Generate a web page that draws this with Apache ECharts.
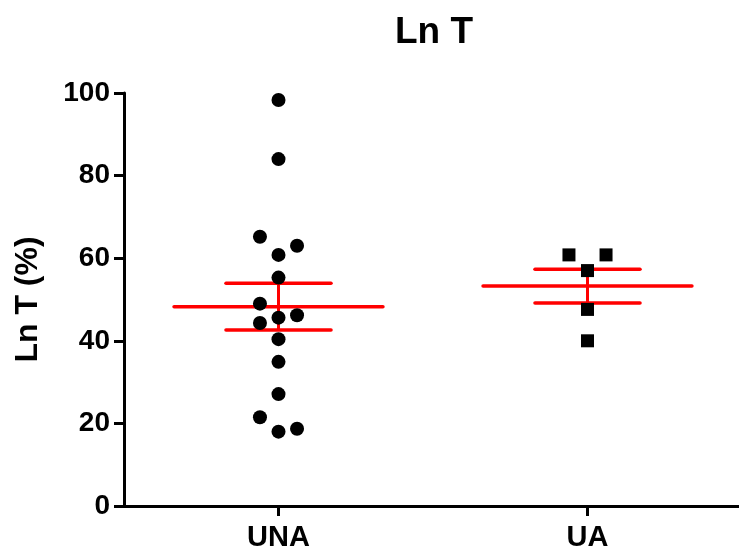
<!DOCTYPE html>
<html>
<head>
<meta charset="utf-8">
<script src="https://cdn.jsdelivr.net/npm/echarts@6/dist/echarts.min.js"></script>
<style>html,body{margin:0;padding:0;background:#fff;}#chart{width:739px;height:551px;}</style>
</head>
<body>
<div id="chart"></div>
<script>
// ---- data ----
const categories = ['UNA', 'UA'];
const unaValues = [98.3, 84.0, 60.8, 63.0, 65.2, 55.3, 45.6, 46.2, 44.3, 49.0, 40.4, 34.9, 27.1, 18.0, 18.7, 21.5];
const uaValues = [57.0, 60.8, 60.8, 47.6, 40.0];
const yTicks = [0, 20, 40, 60, 80, 100];

// ---- layout helpers (style parameters) ----
const JITTER_STEP = 0.06;   // x-axis units per slot
const MIN_GAP = 4.6;        // value gap below which points in same slot collide
const SLOT_ORDER = [0, 1, -1, 2, -2];

function beeswarm(values, center) {
  const placed = [];
  return values.map(v => {
    let slot = 0;
    for (const s of SLOT_ORDER) {
      if (!placed.some(p => p.s === s && Math.abs(p.v - v) < MIN_GAP)) { slot = s; break; }
    }
    placed.push({ s: slot, v: v });
    return [center + slot * JITTER_STEP, v];
  });
}
function meanSem(values) {
  const n = values.length;
  const m = values.reduce((a, b) => a + b, 0) / n;
  const sd = Math.sqrt(values.reduce((a, b) => a + (b - m) * (b - m), 0) / (n - 1));
  return [m, sd / Math.sqrt(n)];
}

const groups = [unaValues, uaValues];
const summary = groups.map((vals, i) => {
  const ms = meanSem(vals);
  return [i + 0.5, ms[0], ms[1]];
});

const FONT = '"Liberation Sans", Arial, sans-serif';
const chart = echarts.init(document.getElementById('chart'));
chart.setOption({
  animation: false,
  backgroundColor: '#ffffff',
  title: {
    text: 'Ln T', left: 429, top: 9, textAlign: 'center',
    textStyle: { fontFamily: FONT, fontWeight: 'bold', fontSize: 37, color: '#000' }
  },
  grid: { left: 124, top: 93, width: 618, height: 413, outerBoundsMode: 'none' },
  xAxis: [
    {
      type: 'category', data: categories, boundaryGap: true,
      axisLine: { show: true, lineStyle: { color: '#000', width: 3 } },
      axisTick: { show: true, alignWithLabel: true, length: 10, lineStyle: { color: '#000', width: 3 } },
      axisLabel: { margin: 17, fontFamily: FONT, fontWeight: 'bold', fontSize: 29, color: '#000' },
      splitLine: { show: false }
    },
    {
      type: 'value', min: 0, max: 2, show: false, splitLine: { show: false }
    }
  ],
  yAxis: {
    type: 'value', min: yTicks[0], max: yTicks[yTicks.length - 1], interval: 20,
    name: 'Ln T (%)', nameLocation: 'middle', nameGap: 80, nameRotate: 90,
    nameTextStyle: { fontFamily: FONT, fontWeight: 'bold', fontSize: 32, color: '#000' },
    axisLine: { show: true, lineStyle: { color: '#000', width: 3 } },
    axisTick: { show: true, length: 10, lineStyle: { color: '#000', width: 3 } },
    axisLabel: { margin: 14, fontFamily: FONT, fontWeight: 'bold', fontSize: 28, color: '#000' },
    splitLine: { show: false }
  },
  series: [
    {
      type: 'custom', xAxisIndex: 1, z: 3, data: summary,
      renderItem: function (params, api) {
        const x = api.value(0), m = api.value(1), se = api.value(2);
        const c = api.coord([x, m]);
        const top = api.coord([x, m + se]);
        const bot = api.coord([x, m - se]);
        const halfMean = api.size([0.338, 0])[0];
        const halfCap = api.size([0.17, 0])[0];
        const st = { stroke: '#ff0000', lineWidth: 3.5, lineCap: 'round' };
        return {
          type: 'group', children: [
            { type: 'line', shape: { x1: c[0] - halfMean, y1: c[1], x2: c[0] + halfMean, y2: c[1] }, style: st },
            { type: 'line', shape: { x1: c[0] - halfCap, y1: top[1], x2: c[0] + halfCap, y2: top[1] }, style: st },
            { type: 'line', shape: { x1: c[0] - halfCap, y1: bot[1], x2: c[0] + halfCap, y2: bot[1] }, style: st },
            { type: 'line', shape: { x1: c[0], y1: top[1], x2: c[0], y2: bot[1] }, style: { stroke: '#ff0000', lineWidth: 3 } }
          ]
        };
      }
    },
    {
      type: 'scatter', xAxisIndex: 1, symbol: 'circle', symbolSize: 14,
      itemStyle: { color: '#000', opacity: 1 }, data: beeswarm(unaValues, 0.5), z: 5
    },
    {
      type: 'scatter', xAxisIndex: 1, symbol: 'rect', symbolSize: 13,
      itemStyle: { color: '#000', opacity: 1 }, data: beeswarm(uaValues, 1.5), z: 5
    }
  ]
});
</script>
</body>
</html>
